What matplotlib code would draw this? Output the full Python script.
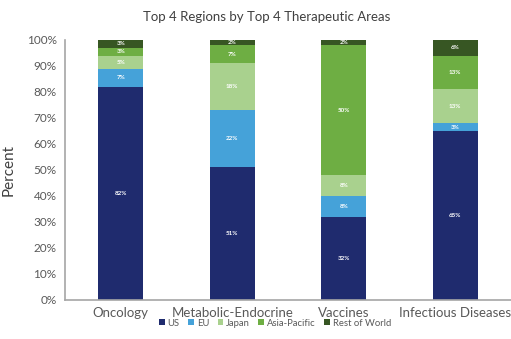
import numpy as np
import matplotlib
matplotlib.use("Agg")
import matplotlib.pyplot as plt
from matplotlib.ticker import PercentFormatter

plt.rcParams['font.family'] = ['Lato', 'DejaVu Sans']

# share of each therapeutic area by region (percent)
areas = ['Oncology', 'Metabolic-Endocrine', 'Vaccines', 'Infectious Diseases']
regions = ['US', 'EU', 'Japan', 'Asia-Pacific', 'Rest of World']
us = [82, 51, 32, 65]
eu = [7, 22, 8, 3]
japan = [5, 18, 8, 13]
asia_pacific = [3, 7, 50, 13]
rest_of_world = [3, 2, 2, 6]

colors = ['#1f2b6e', '#45a2d9', '#a9d18e', '#6eae43', '#375623']

fig = plt.figure(figsize=(5.11, 3.39), dpi=100)
ax = fig.add_axes([65 / 511, 39 / 339, 446 / 511, 260 / 339])

x = np.arange(len(areas))
bottom = np.zeros(len(areas))
for name, vals, c in zip(regions, [us, eu, japan, asia_pacific, rest_of_world], colors):
    vals = np.array(vals, dtype=float)
    ax.bar(x, vals, 0.4, bottom=bottom, color=c, label=name, zorder=2)
    for xi, b, v in zip(x, bottom, vals):
        ax.text(xi, b + v / 2, '{:.0f}%'.format(v), ha='center', va='center',
                color='white', fontsize=4.5, fontweight='bold', zorder=3)
    bottom += vals

ax.set_xlim(-0.5, 3.5)
ax.set_ylim(0, 100)
ax.set_yticks(np.arange(0, 101, 10))
ax.yaxis.set_major_formatter(PercentFormatter(decimals=0))
ax.set_xticks(x)
ax.set_xticklabels(areas)
ax.tick_params(axis='both', length=0, colors='#595959')
ax.tick_params(axis='y', labelsize=8.5, pad=6)
ax.tick_params(axis='x', labelsize=9.5, pad=5)
for s in ['top', 'right']:
    ax.spines[s].set_visible(False)
for s in ['left', 'bottom']:
    ax.spines[s].set_color('#a6a6a6')
    ax.spines[s].set_linewidth(1.2)

ax.set_ylabel('Percent', fontsize=11, color='#404040', labelpad=8)
fig.text(267 / 511, 1 - 17 / 339, 'Top 4 Regions by Top 4 Therapeutic Areas',
         ha='center', va='center', fontsize=9.5, color='#404040')

leg = fig.legend(loc='center', bbox_to_anchor=(275 / 511, 1 - 323 / 339), ncol=5,
                 frameon=False, fontsize=6.8, handlelength=0.6, handleheight=0.6,
                 handletextpad=0.3, columnspacing=0.9)
for t in leg.get_texts():
    t.set_color('#595959')

fig.savefig('out.png', dpi=100)
